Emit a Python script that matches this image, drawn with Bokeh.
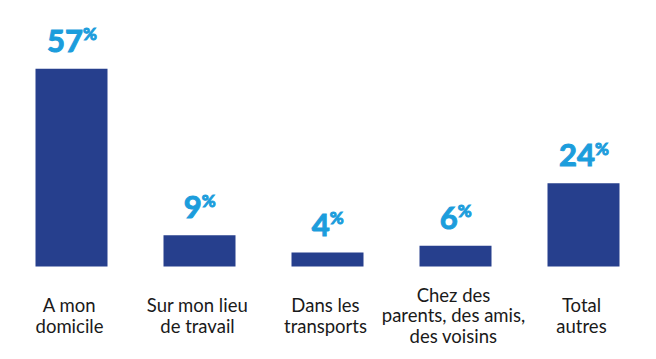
from bokeh.plotting import figure
from bokeh.models import Range1d, FactorRange, ColumnDataSource
from bokeh.core.properties import value
from bokeh.embed import file_html
from bokeh.resources import INLINE

categories = ["A mon\ndomicile", "Sur mon lieu\nde travail", "Dans les\ntransports",
              "Chez des\nparents, des amis,\ndes voisins", "Total\nautres"]
values = [57, 9, 4, 6, 24]
value_labels = ["57", "9", "4", "6", "24"]

BAR = "#263f8d"
BLUE = "#1c9ddc"

p = figure(width=656, height=359, x_range=FactorRange(factors=categories, range_padding=0),
           y_range=Range1d(-24.5, 74.35), output_backend="svg", toolbar_location=None,
           min_border_left=7, min_border_right=9, min_border_top=8, min_border_bottom=8,
           outline_line_color=None)
p.axis.visible = False
p.grid.visible = False

src = ColumnDataSource(dict(cat=categories, val=values, lab=value_labels,
                            pct=["%"] * len(values),
                            off=[(len(s) * 18.5 - 14) / 2 for s in value_labels],
                            zero=[0] * len(values)))

p.vbar(x="cat", top="val", width=0.5625, source=src, color=BAR, line_color=None)

p.text(x="cat", y="val", text="lab", source=src, text_align="right", text_baseline="alphabetic",
       x_offset="off", y_offset=-28, text_font=value("Lato"), text_font_style="bold",
       text_font_size="31px", text_color=BLUE, text_outline_color=BLUE)
p.text(x="cat", y="val", text="pct", source=src, text_align="left", text_baseline="alphabetic",
       x_offset="off", y_offset=-35, text_font=value("Lato"), text_font_style="bold",
       text_font_size="17px", text_color=BLUE, text_outline_color=BLUE)

p.text(x="cat", y="zero", text="cat", source=src, text_align="center", text_baseline="middle",
       x_offset=-2, y_offset=49, text_font=value("Lato"), text_font_size="18.5px",
       text_color="#1a1a1a", text_line_height=0.92)

open("out.html", "w").write(file_html(p, INLINE))
